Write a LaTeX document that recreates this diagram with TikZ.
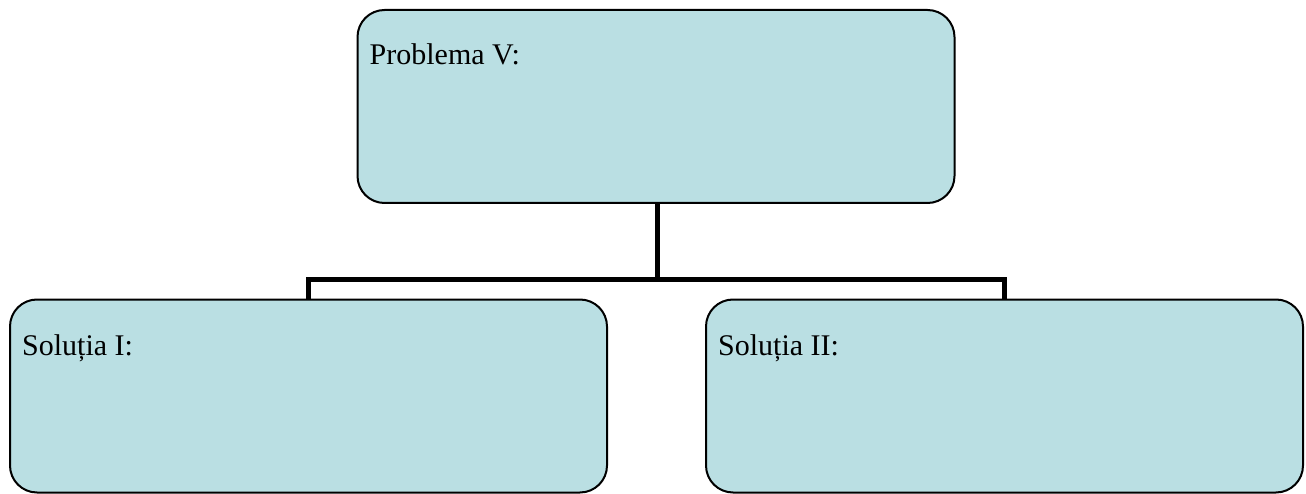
\documentclass[tikz,border=0pt]{standalone}
\usepackage{fontspec}
\setmainfont{Liberation Serif}
\definecolor{boxfill}{RGB}{186,223,227}
\begin{document}
\begin{tikzpicture}[x=1pt,y=-1pt,
  box/.style={draw=black,line width=2pt,fill=boxfill,rounded corners=27pt,
    minimum width=597pt,minimum height=193pt,inner sep=0pt,outer sep=0pt},
  conn/.style={draw=black,line width=5pt,line join=miter},
  lbl/.style={anchor=base west,inner sep=0pt,font=\fontsize{30}{36}\selectfont}]
\useasboundingbox (0,0) rectangle (1306,494);
\node[box] (top) at (656,106.5) {};
\node[box] (left) at (308.5,396) {};
\node[box] (right) at (1004.5,396) {};
\coordinate (j) at (657,280);
\draw[conn] (top.south -| j) -- (j);
\draw[conn] (left.north) |- (j) -| (right.north);
\node[lbl] (t1) at ([shift={(12,55)}]top.north west) {Problema V:};
\node[lbl] (t2) at ([shift={(12,56)}]left.north west) {Soluția I:};
\node[lbl] (t3) at ([shift={(12,56)}]right.north west) {Soluția II:};
\end{tikzpicture}
\end{document}
